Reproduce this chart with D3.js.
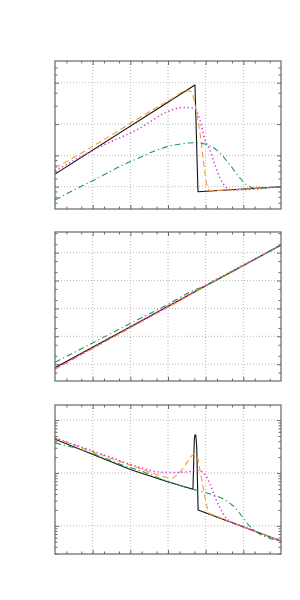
<!DOCTYPE html>
<html>
<head>
<meta charset="utf-8">
<script src="https://cdn.jsdelivr.net/npm/d3@7"></script>
<style>
  html, body { margin: 0; padding: 0; background: #fff; }
  svg { display: block; }
</style>
</head>
<body>
<svg id="chart" width="300" height="600"></svg>
<script>
// shared log x axis, 6 decades
const xDomain = [1e-3, 1e3];
const xGrid = [1e-2, 1e-1, 1, 10, 100];
const xMinor = [2e-3, 5e-3, 2e-2, 5e-2, 0.2, 0.5, 2, 5, 20, 50, 200, 500];

// panel 1
const p1Domain = [0.061, 1.617];
const p1Grid = [0.1, 0.2, 0.4, 1];
const p1Minor = [0.07, 0.08, 0.09, 0.12, 0.14, 0.16, 0.18, 0.6, 0.8, 1.2, 1.4];
const p1Black = [[0.001, 0.132], [5.2, 0.95], [6.25, 0.0895], [1000, 0.1]];
const p1Orange = [[0.001, 0.151], [0.0157, 0.269], [0.333, 0.53], [1.53, 0.73], [2.83, 0.832], [3.84, 0.832],
  [4.6, 0.745], [5.87, 0.488], [7.07, 0.328], [9.0, 0.162], [10.7, 0.104], [13.0, 0.092], [1000, 0.1]];
const p1Magenta = [[0.001, 0.142], [0.0157, 0.242], [0.18, 0.366], [0.832, 0.512], [2.5, 0.579], [3.84, 0.577],
  [5.53, 0.546], [7.07, 0.437], [9.6, 0.281], [13.0, 0.225], [17.7, 0.162], [24, 0.121], [32.6, 0.1015],
  [50, 0.093], [1000, 0.1]];
const p1Green = [[0.001, 0.0745], [0.0046, 0.0993], [0.0157, 0.124], [0.0638, 0.162], [0.18, 0.191], [0.5, 0.225],
  [1.53, 0.252], [5.2, 0.265], [9.6, 0.257], [19.6, 0.225], [44.2, 0.162], [81.5, 0.121], [123, 0.104],
  [204, 0.0971], [1000, 0.1]];

// panel 2
const p2Domain = [0.25, 5.5e4];
const p2Grid = [1, 10, 100, 1000, 10000];
const p2Minor = [0.5, 2, 5, 20, 50, 200, 500, 2000, 5000, 20000, 50000];
const p2Black = [[0.001, 0.75], [1000, 18710]];
const p2Orange = [[0.001, 0.662], [0.333, 49.2], [3.84, 302], [9.6, 620], [1000, 18710]];
const p2Magenta = [[0.001, 0.70], [0.18, 33.1], [5.2, 421], [1000, 18710]];
const p2Green = [[0.001, 1.17], [0.0157, 7.94], [0.18, 43.5], [1, 140], [3.84, 390], [9.6, 646], [24, 1219], [1000, 18710]];

// panel 3
const p3Domain = [0.0294, 19.3];
const p3Grid = [0.1, 1, 10];
const p3Minor = [0.03, 0.04, 0.05, 0.06, 0.07, 0.08, 0.09, 0.2, 0.3, 0.4, 0.5, 0.6, 0.7, 0.8, 0.9,
  2, 3, 4, 5, 6, 7, 8, 9];
const p3Black = [[0.001, 4.34], [0.1, 1.16], [1.02, 0.676], [4.6, 0.492], [4.8, 1.6], [5.0, 4.3], [5.2, 5.3],
  [5.5, 5.1], [5.8, 3.0], [6.05, 0.737], [6.3, 0.2], [1000, 0.0518]];
const p3Orange = [[0.001, 4.59], [0.024, 2.01], [0.18, 1.22], [0.612, 0.897], [1.28, 0.804], [1.84, 0.957],
  [2.66, 1.30], [3.84, 1.92], [4.9, 2.29], [5.89, 2.10], [7.07, 1.14], [8.65, 0.52], [10.6, 0.248],
  [12.2, 0.175], [17.7, 0.157], [1000, 0.0518]];
const p3Magenta = [[0.001, 4.59], [0.024, 2.10], [0.18, 1.27], [0.612, 1.04], [1.53, 1.02], [3.4, 1.05],
  [5.2, 1.12], [7.07, 1.10], [9.6, 0.93], [13.0, 0.62], [17.7, 0.352], [24, 0.218], [34.6, 0.141],
  [50, 0.116], [81.5, 0.102], [1000, 0.0518]];
const p3Green = [[0.001, 3.69], [0.00849, 2.44], [0.024, 1.84], [0.0721, 1.36], [0.18, 1.11], [1, 0.691],
  [4.6, 0.492], [9.6, 0.428], [17.7, 0.376], [32.6, 0.309], [50, 0.248], [72.1, 0.191], [104, 0.135],
  [150, 0.0975], [217, 0.0783], [1000, 0.0518]];

const left = 55, right = 281;
const panels = [
  { top: 61, bottom: 209, domain: p1Domain, grid: p1Grid, minor: p1Minor,
    series: [p1Black, p1Orange, p1Magenta, p1Green] },
  { top: 232, bottom: 381, domain: p2Domain, grid: p2Grid, minor: p2Minor,
    series: [p2Black, p2Orange, p2Magenta, p2Green] },
  { top: 405, bottom: 554, domain: p3Domain, grid: p3Grid, minor: p3Minor,
    series: [p3Black, p3Orange, p3Magenta, p3Green] },
];

// black solid, orange dashed, magenta dotted, green dash-dot
const styles = [
  { color: "#111111", dash: null, width: 1.1, curve: d3.curveLinear },
  { color: "#ff9a2e", dash: "6,3.5", width: 1.1, curve: d3.curveMonotoneX },
  { color: "#dd33dd", dash: "1.3,2.7", width: 1.5, curve: d3.curveMonotoneX },
  { color: "#1f9a55", dash: "6,3,1.2,3", width: 1.1, curve: d3.curveMonotoneX },
];

const svg = d3.select("#chart");
const x = d3.scaleLog().domain(xDomain).range([left, right]);

panels.forEach((p, i) => {
  const y = d3.scaleLog().domain(p.domain).range([p.bottom, p.top]);
  const h = p.bottom - p.top;
  const w = right - left;
  const g = svg.append("g");

  // dotted grid
  const grid = g.append("g").attr("stroke", "#a8a8a8").attr("stroke-width", 0.8).attr("stroke-dasharray", "1,2");
  grid.selectAll("line.gx").data(xGrid).join("line")
    .attr("x1", (d) => x(d)).attr("x2", (d) => x(d))
    .attr("y1", p.top).attr("y2", p.bottom);
  grid.selectAll("line.gy").data(p.grid).join("line")
    .attr("x1", left).attr("x2", right)
    .attr("y1", (d) => y(d)).attr("y2", (d) => y(d));

  // inward ticks on all four sides
  const tickAxis = (axis, tx, ty) => {
    const a = g.append("g").attr("transform", `translate(${tx},${ty})`).call(axis);
    a.select(".domain").remove();
    a.selectAll("line").attr("stroke", "#555").attr("stroke-width", 0.9);
  };
  tickAxis(d3.axisBottom(x).tickValues(xGrid).tickSize(-4).tickFormat(""), 0, p.bottom);
  tickAxis(d3.axisBottom(x).tickValues(xMinor).tickSize(-2.5).tickFormat(""), 0, p.bottom);
  tickAxis(d3.axisTop(x).tickValues(xGrid).tickSize(-4).tickFormat(""), 0, p.top);
  tickAxis(d3.axisTop(x).tickValues(xMinor).tickSize(-2.5).tickFormat(""), 0, p.top);
  tickAxis(d3.axisLeft(y).tickValues(p.grid).tickSize(-4).tickFormat(""), left, 0);
  tickAxis(d3.axisLeft(y).tickValues(p.minor).tickSize(-2.5).tickFormat(""), left, 0);
  tickAxis(d3.axisRight(y).tickValues(p.grid).tickSize(-4).tickFormat(""), right, 0);
  tickAxis(d3.axisRight(y).tickValues(p.minor).tickSize(-2.5).tickFormat(""), right, 0);

  // curves
  const clipId = `clip${i}`;
  g.append("clipPath").attr("id", clipId)
    .append("rect").attr("x", left).attr("y", p.top).attr("width", w).attr("height", h);
  const curves = g.append("g").attr("clip-path", `url(#${clipId})`);
  p.series.forEach((data, k) => {
    const s = styles[k];
    const line = d3.line().x((d) => x(d[0])).y((d) => y(d[1])).curve(s.curve);
    curves.append("path")
      .attr("d", line(data))
      .attr("fill", "none")
      .attr("stroke", s.color)
      .attr("stroke-width", s.width)
      .attr("stroke-dasharray", s.dash)
      .attr("stroke-linejoin", "round");
  });

  // frame
  g.append("rect")
    .attr("x", left).attr("y", p.top).attr("width", w).attr("height", h)
    .attr("fill", "none").attr("stroke", "#666").attr("stroke-width", 1.2);
});
</script>
</body>
</html>
